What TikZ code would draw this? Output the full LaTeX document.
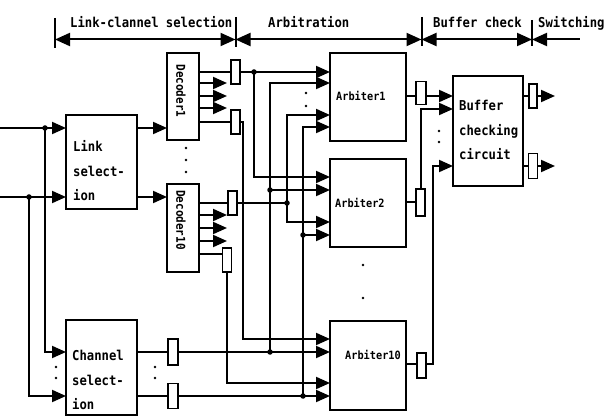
\documentclass[tikz,border=0pt]{standalone}
\usepackage{fontspec}
\newfontfamily\mono{DejaVu Sans Mono}[FakeStretch=0.9]
\usetikzlibrary{arrows.meta}
\begin{document}
\begin{tikzpicture}[x=1pt,y=-1pt,
  wire/.style={line width=2pt},
  arr/.style={wire,-{Triangle[length=14pt,width=12pt]}},
  blk/.style={draw,line width=1.8pt,inner sep=0,outer sep=0,anchor=north west},
  bufr/.style={draw,line width=1.6pt,fill=white,inner sep=0,outer sep=0,minimum width=9pt,minimum height=24pt},
  jdot/.style={circle,fill,inner sep=0,minimum size=5.5pt},
  sdot/.style={circle,fill,inner sep=0,minimum size=2.6pt},
  lbl/.style={font=\mono\bfseries\fontsize{13.6}{24.5}\selectfont,inner sep=0,align=left},
  hdr/.style={font=\mono\bfseries\fontsize{13.6}{14}\selectfont,inner sep=0,anchor=base west},
  alb/.style={font=\mono\bfseries\fontsize{11.4}{12}\selectfont,inner sep=0,anchor=west},
  dlb/.style={font=\mono\bfseries\fontsize{12.2}{12}\selectfont,inner sep=0,rotate=-90},
  dimarr/.style={line width=2pt},
  big/.tip={Triangle[length=15pt,width=13pt]}]
\useasboundingbox (0,0) rectangle (606,417);

% ---------- header ----------
\coordinate (t0) at (55,39.5);
\coordinate (t1) at (235.5,39.5);
\coordinate (t2) at (421.5,39.5);
\coordinate (t3) at (532,39.5);
\coordinate (t4) at (580,39.5);
\draw[dimarr] (55,18) -- (55,48);
\draw[dimarr] (235.5,17) -- (235.5,47);
\draw[dimarr] (421.5,17) -- (421.5,46);
\draw[dimarr] (532,20) -- (532,46);
\draw[dimarr,big-big] (t0) -- (t1);
\draw[dimarr,big-big] (t1) -- (t2);
\draw[dimarr,big-big] (t2) -- (t3);
\draw[dimarr,big-] (t3) -- (t4);
\node[hdr] (h1) at (70,28) {Link-clannel selection};
\node[hdr] (h2) at (268,28) {Arbitration};
\node[hdr] (h3) at (433,28) {Buffer check};
\node[hdr] (h4) at (538,28) {Switching};

% ---------- blocks ----------
\node[blk,minimum width=71pt,minimum height=94pt] (link) at (66,115) {};
\node[blk,minimum width=71pt,minimum height=95pt] (chan) at (66,320) {};
\node[blk,minimum width=32pt,minimum height=87pt] (dec1) at (167,53) {};
\node[blk,minimum width=32pt,minimum height=88pt] (dec10) at (167,184) {};
\node[blk,minimum width=76pt,minimum height=88pt] (arb1) at (330,53) {};
\node[blk,minimum width=76pt,minimum height=88pt] (arb2) at (330,159) {};
\node[blk,minimum width=76pt,minimum height=89pt] (arb10) at (330,321) {};
\node[blk,minimum width=70pt,minimum height=110pt] (bcc) at (453,76) {};

\node[lbl,anchor=west] (linkt) at (73,171) {Link\\select-\\ion};
\node[lbl,anchor=west] (chant) at (72,380) {Channel\\select-\\ion};
\node[lbl,anchor=west] (bcct) at (459,130) {Buffer\\checking\\circuit};
\node[dlb] (dec1t) at (181,91) {Decoder1};
\node[dlb] (dec10t) at (181,220) {Decoder10};
\node[alb] (arb1t) at (336,96) {Arbiter1};
\node[alb] (arb2t) at (335,203) {Arbiter2};
\node[alb] (arb10t) at (345,355) {Arbiter10};

% ---------- buffers ----------
\node[bufr] (bd1a) at (235.5,72) {};
\node[bufr] (bd1b) at (235.5,122) {};
\node[bufr] (bd10a) at (232.5,203) {};
\node[bufr] (bd10b) at (227,260) {};
\node[bufr,minimum width=10pt,minimum height=26pt] (bc1) at (173,352) {};
\node[bufr,minimum width=10pt,minimum height=25pt] (bc2) at (173,396) {};
\node[bufr,minimum width=10pt,minimum height=23pt] (ba1) at (421,93) {};
\node[bufr,minimum width=9pt,minimum height=27pt] (ba2) at (420.5,202.5) {};
\node[bufr,minimum width=9pt,minimum height=25pt] (ba10) at (421.5,365.5) {};
\node[bufr,minimum width=8pt,minimum height=24pt] (bo1) at (533,96) {};
\node[bufr,minimum width=9pt,minimum height=25pt] (bo2) at (533,166) {};

% ---------- junctions ----------
\node[jdot] (j1) at (45,128) {};
\node[jdot] (j2) at (29,197) {};
\node[jdot] (jd1) at (254,72) {};
\node[jdot] (jd10) at (287,203) {};
\node[jdot] (jc1) at (270,352) {};
\node[jdot] (jc1b) at (270,190) {};
\node[jdot] (jc2) at (303,396) {};
\node[jdot] (jc2b) at (303,235) {};

% ---------- inputs ----------
\coordinate (in1) at (0,128);
\coordinate (in2) at (0,197);
\draw[arr] (in1) -- (link.west |- in1);
\draw[arr] (in2) -- (link.west |- in2);
\draw[arr] (j1.center) |- (chan.west |- 0,352);
\draw[arr] (j2.center) |- (chan.west |- 0,396);
\draw[arr] (link.east |- 0,128) -- (dec1.west |- 0,128);
\draw[arr] (link.east |- 0,197) -- (dec10.west |- 0,197);

% ---------- channel selection outputs ----------
\draw[wire] (chan.east |- bc1) -- (bc1.west);
\draw[arr] (bc1.east) -- (arb10.west |- bc1);
\draw[wire] (chan.east |- bc2) -- (bc2.west);
\draw[arr] (bc2.east) -- (arb10.west |- bc2);
\draw[arr] (jc1.center) |- (arb1.west |- 0,83);
\draw[arr] (jc1b.center) -- (arb2.west |- jc1b);
\draw[arr] (jc2.center) |- (arb1.west |- 0,127);
\draw[arr] (jc2b.center) -- (arb2.west |- jc2b);

% ---------- decoder 1 ----------
\draw[wire] (dec1.east |- bd1a) -- (bd1a.west);
\draw[arr] (bd1a.east) -- (arb1.west |- bd1a);
\draw[arr] (jd1.center) |- (arb2.west |- 0,177);
\foreach \y in {83,96,108} \draw[arr] (dec1.east |- 0,\y) -- (227,\y);
\draw[wire] (dec1.east |- bd1b) -- (bd1b.west);
\draw[arr] (bd1b.east) -- ++(3,0) |- (arb10.west |- 0,339);

% ---------- decoder 10 ----------
\draw[wire] (dec10.east |- bd10a) -- (bd10a.west);
\draw[wire] (bd10a.east) -- (jd10.center);
\draw[arr] (jd10.center) |- (arb1.west |- 0,115);
\draw[arr] (jd10.center) |- (arb2.west |- 0,222);
\foreach \y in {215,228,241} \draw[arr] (dec10.east |- 0,\y) -- (227,\y);
\draw[wire] (dec10.east |- 0,254) -- (bd10b.west |- 0,254);
\draw[arr] (bd10b.south) |- (arb10.west |- 0,383);

% ---------- arbiter outputs ----------
\draw[wire] (arb1.east |- 0,96) -- (ba1.west |- 0,96);
\draw[arr] (ba1.east |- 0,96) -- (bcc.west |- 0,96);
\draw[wire] (arb2.east |- ba2) -- (ba2.west);
\draw[arr] (ba2.north) |- (bcc.west |- 0,109);
\draw[wire] (arb10.east |- 0,364) -- (ba10.west |- 0,364);
\draw[arr] (ba10.east |- 0,364) -- ++(7,0) |- (bcc.west |- 0,166);

% ---------- buffer check outputs ----------
\coordinate (o1) at (555,96);
\coordinate (o2) at (555,166);
\draw[wire] (bcc.east |- bo1) -- (bo1.west);
\draw[arr] (bo1.east) -- (o1);
\draw[wire] (bcc.east |- bo2) -- (bo2.west);
\draw[arr] (bo2.east) -- (o2);

% ---------- ellipsis dots ----------
\foreach \p in {(186,148),(186,160),(186,172),(306,93),(306,106),(363,265),(363,298),
  (439,131),(439,142),(56,367),(56,378),(155,367),(155,378)}
  \node[sdot] at \p {};
\end{tikzpicture}
\end{document}
